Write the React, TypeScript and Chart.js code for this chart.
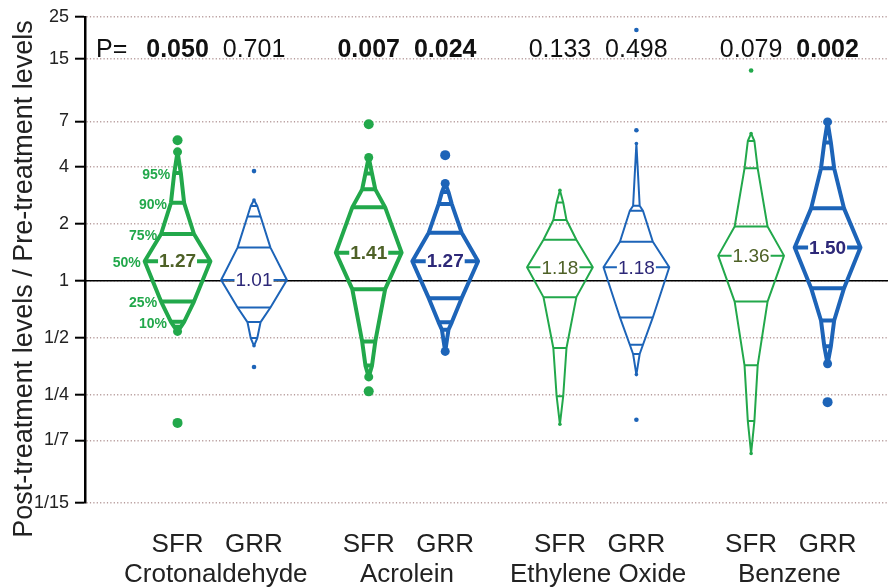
import React, { useEffect, useRef } from 'react';
import { Chart, registerables } from 'chart.js';

Chart.register(...registerables);

const FONT = '"Liberation Sans", Arial, sans-serif';

const groupNames = ['Crotonaldehyde', 'Acrolein', 'Ethylene Oxide', 'Benzene'];
const groupCenters = [0.5, 3, 5.5, 8];
const boxLabels = ['SFR', 'GRR', 'SFR', 'GRR', 'SFR', 'GRR', 'SFR', 'GRR'];
const boxPositions = [0, 1, 2.5, 3.5, 5, 6, 7.5, 8.5];
const pValueLabels = ['0.050', '0.701', '0.007', '0.024', '0.133', '0.498', '0.079', '0.002'];
const significant = [true, false, true, true, false, false, false, true];
const medianLabels = ['1.27', '1.01', '1.41', '1.27', '1.18', '1.18', '1.36', '1.50'];

const percentileLevels = [0.05, 0.1, 0.25, 0.5, 0.75, 0.9, 0.95];
// [min, P5, P10, P25, P50, P75, P90, P95, max]
const sfrCrotonaldehyde = [0.54, 0.571, 0.607, 0.777, 1.27, 1.77, 2.59, 3.72, 4.82];
const grrCrotonaldehyde = [0.453, 0.498, 0.605, 0.723, 1.01, 1.5, 2.19, 2.49, 2.68];
const sfrAcrolein = [0.31, 0.356, 0.478, 0.904, 1.41, 2.45, 3.05, 3.7, 4.5];
const grrAcrolein = [0.423, 0.551, 0.603, 0.81, 1.27, 1.8, 2.55, 2.95, 3.28];
const sfrEthyleneOxide = [0.174, 0.245, 0.441, 0.82, 1.18, 1.65, 2.1, 2.6, 3.02];
const grrEthyleneOxide = [0.319, 0.41, 0.459, 0.64, 1.18, 1.61, 2.35, 2.5, 5.34];
const sfrBenzene = [0.122, 0.181, 0.357, 0.777, 1.36, 1.94, 3.94, 5.5, 6.03];
const grrBenzene = [0.364, 0.45, 0.617, 0.915, 1.5, 2.42, 3.94, 5.4, 6.94];

const sfrCrotonaldehydeOutliers = [5.55, 0.177];
const grrCrotonaldehydeOutliers = [3.81, 0.35];
const sfrAcroleinOutliers = [6.75, 0.26];
const grrAcroleinOutliers = [4.63];
const sfrEthyleneOxideOutliers: number[] = [];
const grrEthyleneOxideOutliers = [21.3, 6.27, 0.184];
const sfrBenzeneOutliers = [13.0, 0.0623];
const grrBenzeneOutliers = [0.228];

const quantiles = [
  sfrCrotonaldehyde, grrCrotonaldehyde, sfrAcrolein, grrAcrolein,
  sfrEthyleneOxide, grrEthyleneOxide, sfrBenzene, grrBenzene,
];
const outliers = [
  sfrCrotonaldehydeOutliers, grrCrotonaldehydeOutliers, sfrAcroleinOutliers, grrAcroleinOutliers,
  sfrEthyleneOxideOutliers, grrEthyleneOxideOutliers, sfrBenzeneOutliers, grrBenzeneOutliers,
];

const yTickValues = [1 / 15, 1 / 7, 1 / 4, 1 / 2, 1, 2, 4, 7, 15, 25];
const yTickLabels = ['1/15', '1/7', '1/4', '1/2', '1', '2', '4', '7', '15', '25'];
const percentTagTexts = ['95%', '90%', '75%', '50%', '25%', '10%'];
const percentTagLevels = [0.95, 0.9, 0.75, 0.5, 0.25, 0.1];

const X_MIN = -1.21;
const X_MAX = 9.29;
const HALF = 0.43;

const GREEN = '#22a84b';
const BLUE = '#1d64b8';
const SFR_TEXT = '#4e6127';
const GRR_TEXT = '#2d2878';
const GRID_DASH = [1.2, 2.2];

const hw = (p: number) => HALF * 2 * Math.min(p, 1 - p);

function polygon(c: number, q: number[]) {
  const left = percentileLevels.map((p, i) => ({ x: c - hw(p), y: q[i + 1] }));
  const right = percentileLevels.map((p, i) => ({ x: c + hw(p), y: q[i + 1] })).reverse();
  return [{ x: c, y: q[0] }, ...left, { x: c, y: q[8] }, ...right, { x: c, y: q[0] }];
}

function rungs(c: number, q: number[]) {
  const pts: any[] = [];
  percentileLevels.forEach((p, i) => {
    pts.push({ x: c - hw(p), y: q[i + 1] }, { x: c + hw(p), y: q[i + 1] }, { x: c, y: null });
  });
  return pts;
}

const textPlugin = {
  id: 'percentileTexts',
  afterDatasetsDraw(chart: any) {
    const ctx = chart.ctx;
    const xs = chart.scales.x;
    const ys = chart.scales.y;
    ctx.save();
    // median labels
    boxPositions.forEach((pos, i) => {
      const px = xs.getPixelForValue(pos);
      const py = ys.getPixelForValue(quantiles[i][4]);
      ctx.font = `${significant[i] ? 'bold ' : ''}19px ${FONT}`;
      const w = ctx.measureText(medianLabels[i]).width;
      ctx.fillStyle = '#ffffff';
      ctx.fillRect(px - w / 2 - 1, py - 8, w + 2, 16);
      ctx.fillStyle = boxLabels[i] === 'SFR' ? SFR_TEXT : GRR_TEXT;
      ctx.textAlign = 'center';
      ctx.textBaseline = 'middle';
      ctx.fillText(medianLabels[i], px, py + 1);
    });
    // percent tags on first box
    ctx.font = `bold 14px ${FONT}`;
    ctx.fillStyle = GREEN;
    ctx.textAlign = 'right';
    ctx.textBaseline = 'middle';
    percentTagTexts.forEach((t, k) => {
      const lvl = percentTagLevels[k];
      const idx = percentileLevels.indexOf(lvl);
      const px = xs.getPixelForValue(boxPositions[0] - hw(lvl)) - 4;
      const py = ys.getPixelForValue(quantiles[0][idx + 1]) + 2;
      ctx.fillText(t, px, py);
    });
    // P values
    ctx.fillStyle = '#111111';
    ctx.textBaseline = 'alphabetic';
    ctx.font = `25px ${FONT}`;
    ctx.textAlign = 'left';
    ctx.fillText('P=', 96, 57);
    ctx.textAlign = 'center';
    pValueLabels.forEach((t, i) => {
      ctx.font = `${significant[i] ? 'bold ' : ''}25px ${FONT}`;
      ctx.fillText(t, xs.getPixelForValue(boxPositions[i]), 57);
    });
    // y axis title
    ctx.font = `27px ${FONT}`;
    ctx.fillStyle = '#222222';
    ctx.translate(32, 279);
    ctx.rotate(-Math.PI / 2);
    ctx.textAlign = 'center';
    ctx.textBaseline = 'alphabetic';
    ctx.fillText('Post-treatment levels / Pre-treatment levels', 0, 0);
    ctx.restore();
  },
};

export default function App() {
  const canvasRef = useRef<HTMLCanvasElement | null>(null);

  useEffect(() => {
    document.body.style.margin = '0';
    const canvas = canvasRef.current;
    if (!canvas) return;

    const datasets: any[] = [];
    datasets.push({
      data: [{ x: X_MIN, y: 1 }, { x: X_MAX, y: 1 }],
      borderColor: '#000000',
      borderWidth: 1.5,
      pointRadius: 0,
      order: 100,
    });
    boxPositions.forEach((c, i) => {
      const color = boxLabels[i] === 'SFR' ? GREEN : BLUE;
      const thick = significant[i];
      const q = quantiles[i];
      datasets.push({
        data: polygon(c, q),
        borderColor: color,
        borderWidth: thick ? 4 : 2,
        borderJoinStyle: 'round',
        pointRadius: 0,
        fill: false,
        tension: 0,
        order: 50,
      });
      datasets.push({
        data: rungs(c, q),
        borderColor: color,
        borderWidth: thick ? 4 : 2,
        pointRadius: 0,
        spanGaps: false,
        fill: false,
        order: 50,
      });
      datasets.push({
        data: [{ x: c, y: q[0] }, { x: c, y: q[8] }],
        showLine: false,
        pointRadius: thick ? 4.5 : 1.8,
        pointBackgroundColor: color,
        pointBorderWidth: 0,
        clip: false,
        order: 40,
      });
      datasets.push({
        data: outliers[i].map((v) => ({ x: c, y: v })),
        showLine: false,
        pointRadius: thick ? 5 : 2.3,
        pointBackgroundColor: color,
        pointBorderWidth: 0,
        clip: false,
        order: 40,
      });
    });

    const chart = new Chart(canvas, {
      type: 'line',
      data: { datasets },
      options: {
        animation: false,
        responsive: true,
        maintainAspectRatio: false,
        events: [],
        layout: { padding: { top: 16, right: 0, bottom: 0, left: 0 } },
        plugins: { legend: { display: false }, tooltip: { enabled: false } },
        scales: {
          x: {
            type: 'linear',
            position: 'bottom',
            weight: 0,
            min: X_MIN,
            max: X_MAX,
            afterBuildTicks: (s: any) => {
              s.ticks = boxPositions.map((v) => ({ value: v }));
            },
            afterFit: (s: any) => {
              s.height = 50;
            },
            grid: { display: false, drawTicks: false },
            border: { display: false },
            ticks: {
              autoSkip: false,
              maxRotation: 0,
              minRotation: 0,
              padding: 26,
              color: '#222222',
              font: { family: FONT, size: 26 },
              callback: (_v: any, i: number) => boxLabels[i],
            },
          },
          x2: {
            type: 'linear',
            position: 'bottom',
            weight: 1,
            min: X_MIN,
            max: X_MAX,
            afterBuildTicks: (s: any) => {
              s.ticks = groupCenters.map((v) => ({ value: v }));
            },
            afterFit: (s: any) => {
              s.height = 34;
            },
            grid: { display: false, drawTicks: false },
            border: { display: false },
            ticks: {
              autoSkip: false,
              maxRotation: 0,
              minRotation: 0,
              padding: 6,
              color: '#222222',
              font: { family: FONT, size: 26 },
              callback: (_v: any, i: number) => groupNames[i],
            },
          },
          y: {
            type: 'logarithmic',
            min: 1 / 15,
            max: 25,
            afterBuildTicks: (s: any) => {
              s.ticks = yTickValues.map((v) => ({ value: v }));
            },
            afterFit: (s: any) => {
              s.width = 85;
            },
            grid: {
              color: 'rgba(175,145,145,0.9)',
              lineWidth: 1.4,
              borderDash: GRID_DASH,
              drawTicks: true,
              tickLength: 10,
              tickColor: '#000000',
              tickWidth: 2,
              tickBorderDash: [],
            },
            border: { display: true, color: '#000000', width: 2.5, dash: GRID_DASH },
            ticks: {
              autoSkip: false,
              padding: 6,
              color: '#222222',
              font: { family: FONT, size: 18 },
              callback: (_v: any, i: number) => yTickLabels[i],
            },
          },
        },
      },
      plugins: [textPlugin],
    } as any);

    return () => chart.destroy();
  }, []);

  return (
    <div style={{ position: 'relative', width: 893, height: 587 }}>
      <canvas ref={canvasRef} />
    </div>
  );
}
